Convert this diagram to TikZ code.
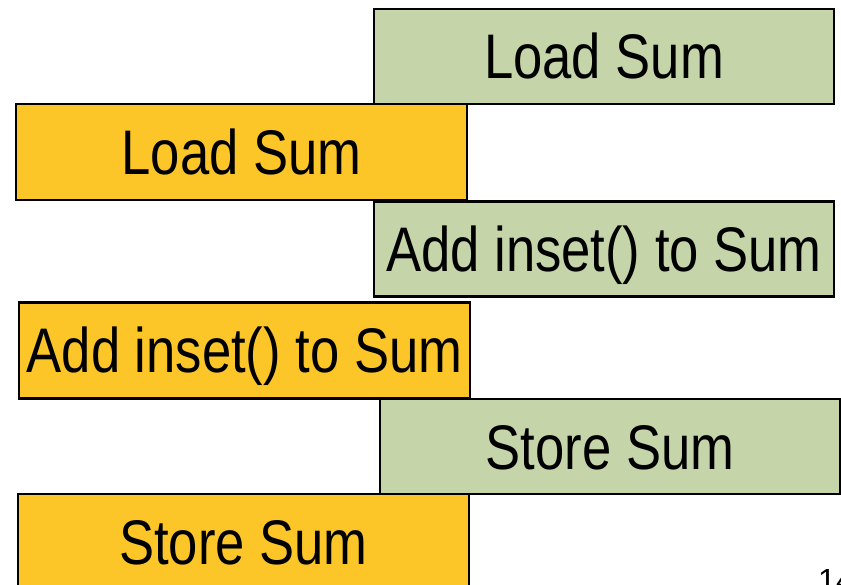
\documentclass[tikz,border=0pt]{standalone}
\usepackage{fontspec}
\setmainfont{Liberation Sans}[FakeStretch=0.835]
\newfontfamily\numfont{Liberation Sans}
\definecolor{stepgreen}{HTML}{C5D5A9}
\definecolor{steporange}{HTML}{FDC628}
\tikzset{
  opbox/.style={draw=black, line width=2.2pt, inner sep=0pt,
    minimum width=#1, text height=45pt, text depth=0pt,
    font=\fontsize{63}{70}\selectfont},
  greenop/.style={opbox=460pt, fill=stepgreen, minimum height=95pt},
  orangeop/.style={opbox=451pt, fill=steporange, minimum height=96pt},
}
\begin{document}
\begin{tikzpicture}[x=1pt,y=-1pt]
  \useasboundingbox (0,0) rectangle (841,585);
  \clip (0,0) rectangle (841,585);
  \node[greenop]  (g1) at (604,56.5)  {Load Sum};
  \node[orangeop] (o1) at (241.5,152) {Load Sum};
  \node[greenop]  (g2) at (604,249)   {Add inset() to Sum};
  \node[orangeop] (o2) at (244.5,350.5) {Add inset() to Sum};
  \node[greenop]  (g3) at (610,446.5) {Store Sum};
  % last box runs past the lower edge of the page
  \node[orangeop, minimum height=104pt] (o3) at (243.5,546) {};
  \node (o3t) at (243.5,542) [font=\fontsize{63}{70}\selectfont, text height=45pt, text depth=0pt, inner sep=0pt] {Store Sum};
  % slide number in the corner, partly off the page
  \node[anchor=base west, inner sep=0pt, font=\numfont\fontsize{32}{36}\selectfont] (pg) at (818,591) {14};
\end{tikzpicture}
\end{document}
